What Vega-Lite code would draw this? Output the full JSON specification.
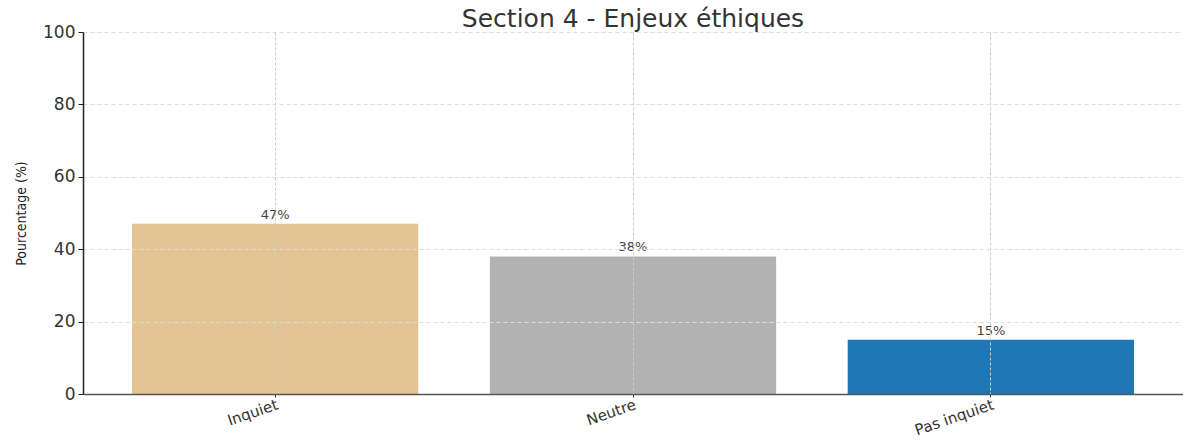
{
  "$schema": "https://vega.github.io/schema/vega-lite/v6.json",
  "autosize": "none",
  "width": 1100,
  "height": 362,
  "padding": {"left": 83, "top": 32, "right": 0, "bottom": 47},
  "background": "white",
  "config": {
    "view": {"stroke": null},
    "font": "DejaVu Sans"
  },
  "title": {
    "text": "Section 4 - Enjeux éthiques",
    "font": "DejaVu Sans",
    "fontSize": 25,
    "fontWeight": "normal",
    "color": "#333333",
    "anchor": "middle",
    "frame": "group",
    "offset": -9
  },
  "data": {
    "values": [
      {"categorie": "Inquiet", "pourcentage": 47, "label": "47%", "couleur": "Inquiet"},
      {"categorie": "Neutre", "pourcentage": 38, "label": "38%", "couleur": "Neutre"},
      {"categorie": "Pas inquiet", "pourcentage": 15, "label": "15%", "couleur": "Pas inquiet"}
    ]
  },
  "encoding": {
    "x": {
      "field": "categorie",
      "type": "nominal",
      "sort": null,
      "scale": {"paddingInner": 0.2, "paddingOuter": 0.137},
      "axis": {
        "title": null,
        "labelAngle": -19,
        "labelAlign": "right",
        "labelBaseline": "top",
        "labelFontSize": 15,
        "labelColor": "#333333",
        "labelPadding": 0,
        "tickSize": 3,
        "tickColor": "#333333",
        "domainColor": "#555555",
        "domainWidth": 1.5,
        "grid": true,
        "gridColor": "#cccccc",
        "gridDash": [3, 2],
        "gridWidth": 1,
        "zindex": 1
      }
    },
    "y": {
      "field": "pourcentage",
      "type": "quantitative",
      "scale": {"domain": [0, 100], "nice": false},
      "axis": {
        "title": "Pourcentage (%)",
        "titleFont": "DejaVu Sans Condensed",
        "titleFontSize": 14,
        "titleFontWeight": "normal",
        "titleColor": "#222222",
        "titlePadding": 14,
        "values": [0, 20, 40, 60, 80, 100],
        "labelFontSize": 17,
        "labelColor": "#333333",
        "labelPadding": 3,
        "tickSize": 5,
        "tickColor": "#222222",
        "domainColor": "#222222",
        "domainWidth": 1.5,
        "grid": true,
        "gridColor": "#dddddd",
        "gridDash": [4, 3],
        "gridWidth": 1,
        "zindex": 1
      }
    }
  },
  "layer": [
    {
      "mark": {"type": "bar"},
      "encoding": {
        "color": {
          "field": "couleur",
          "type": "nominal",
          "scale": {"domain": ["Inquiet", "Neutre", "Pas inquiet"], "range": ["#e3c494", "#b3b3b3", "#1f77b4"]},
          "legend": null
        }
      }
    },
    {
      "mark": {"type": "text", "dy": -9, "fontSize": 13, "color": "#444444", "font": "DejaVu Sans"},
      "encoding": {
        "text": {"field": "label"}
      }
    }
  ]
}
